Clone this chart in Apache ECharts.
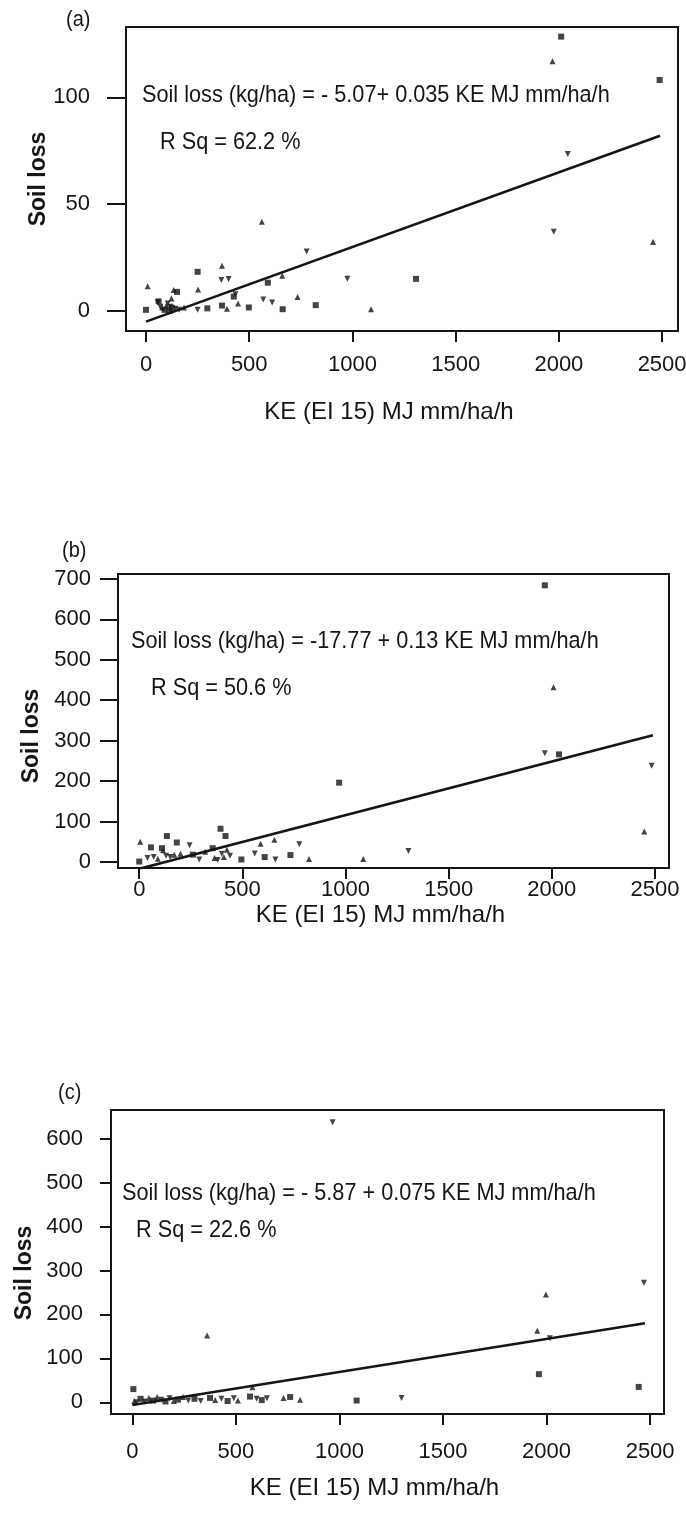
<!DOCTYPE html>
<html lang="en">
<head>
    <meta charset="UTF-8">
    <title>Soil loss vs KE</title>
    <style>
        * {
            margin: 0;
            padding: 0;
        }

        html, body {
            height: 100%;
            width: 100%;
            background: #fff;
        }
    </style>
    <script src="https://cdn.jsdelivr.net/npm/echarts@6/dist/echarts.min.js"></script>
</head>
<body>

<div id="main" style="width: 686px;height: 1513px;"></div>

<script>
    // tick labels
    var xTicks = [0, 500, 1000, 1500, 2000, 2500];
    var yTicksA = [0, 50, 100];
    var yTicksB = [0, 100, 200, 300, 400, 500, 600, 700];
    var yTicksC = [0, 100, 200, 300, 400, 500, 600];

    // (a) soil loss vs KE
    var pointsA = [
        [0, 0.5], [8, 11.5], [57, 4], [61, 4.5], [69, 2], [78, 1.6], [90, 0.5], [99, 2.7],
        [105, 3.5], [114, 0], [118, 2], [123, 5.8], [125, 1.5], [134, 9.8], [142, 1], [150, 8.9],
        [160, 0.5], [184, 1.6], [250, 18.3], [252, 10], [250, 0.6], [297, 1.2], [365, 14.5],
        [368, 21.1], [368, 2.5], [392, 1], [400, 14.9], [425, 6.7], [433, 7.8], [446, 3.5],
        [498, 1.6], [561, 41.7], [568, 5.3], [590, 13.2], [611, 3.9], [660, 16.5], [662, 0.8],
        [734, 6.5], [778, 27.8], [822, 2.7], [975, 15], [1090, 0.8], [1308, 15], [1969, 116.9],
        [1975, 37], [2011, 128.4], [2043, 73.4], [2456, 32.3], [2488, 108.1]
    ];
    var fitA = [[0, -5], [2490, 82]];

    // (b)
    var pointsB = [
        [0, 1], [5, 50], [40, 10], [57, 36], [70, 12], [90, 8], [110, 34], [115, 29], [130, 15],
        [134, 64], [150, 12], [170, 18], [182, 48], [200, 20], [244, 41], [260, 18], [291, 6],
        [320, 25], [356, 34], [365, 10], [380, 5], [394, 82], [400, 20], [410, 12], [418, 64],
        [425, 30], [440, 15], [495, 6], [560, 21], [588, 45], [608, 12], [655, 55], [660, 6],
        [733, 17], [776, 44], [823, 7], [969, 196], [1086, 7], [1305, 27], [1966, 684],
        [1966, 269], [2008, 432], [2035, 266], [2448, 75], [2484, 238]
    ];
    var fitB = [[0, -17], [2490, 313]];

    // (c)
    var pointsC = [
        [5, 30], [10, 3], [20, 0], [40, 8], [60, 2], [80, 10], [100, 4], [120, 12], [140, 6],
        [160, 2], [180, 9], [200, 3], [220, 6], [245, 12], [270, 4], [300, 8], [330, 3],
        [361, 152], [375, 10], [400, 5], [430, 8], [460, 3], [490, 9], [510, 4], [568, 13],
        [580, 34], [600, 8], [625, 5], [650, 9], [730, 10], [762, 12], [810, 6], [967, 637],
        [1083, 4], [1300, 10], [1955, 163], [1963, 64], [1997, 245], [2016, 146], [2445, 35],
        [2470, 272]
    ];
    var fitC = [[0, -6], [2475, 180]];

    var FONT = '"Liberation Sans", Arial, sans-serif';
    var INK = '#151515';

    var myChart = echarts.init(document.getElementById('main'));

    function plain(v) {
        return String(v);
    }

    function xAxisFor(gridIndex, min, max, labelMargin, nameGap) {
        return {
            type: 'value',
            gridIndex: gridIndex,
            min: min,
            max: max,
            name: 'KE (EI 15) MJ mm/ha/h',
            nameLocation: 'middle',
            nameGap: nameGap,
            nameMoveOverlap: false,
            nameTextStyle: {fontFamily: FONT, fontSize: 24, color: INK, padding: [0, 26, 0, 0]},
            axisLine: {show: false, onZero: false},
            axisTick: {show: true, customValues: xTicks, length: 11, lineStyle: {color: INK, width: 2}},
            axisLabel: {customValues: xTicks, formatter: plain, margin: labelMargin, fontFamily: FONT, fontSize: 22, color: INK},
            splitLine: {show: false}
        };
    }

    function yAxisFor(gridIndex, min, max, ticks, tickLen, labelMargin, nameGap, shift) {
        return {
            type: 'value',
            gridIndex: gridIndex,
            min: min,
            max: max,
            name: 'Soil loss',
            nameLocation: 'middle',
            nameGap: nameGap,
            nameMoveOverlap: false,
            nameTextStyle: {fontFamily: FONT, fontSize: 23, fontWeight: 'bold', color: INK, padding: [0, shift, 0, 0]},
            axisLine: {show: false, onZero: false},
            axisTick: {show: true, customValues: ticks, length: tickLen, lineStyle: {color: INK, width: 2}},
            axisLabel: {customValues: ticks, formatter: plain, margin: labelMargin, fontFamily: FONT, fontSize: 22, color: INK},
            splitLine: {show: false}
        };
    }

    function pointSeries(i, data) {
        return {
            type: 'scatter',
            xAxisIndex: i,
            yAxisIndex: i,
            data: data,
            symbol: function (v, p) {
                return p.dataIndex % 3 === 0 ? 'rect' : 'triangle';
            },
            symbolRotate: function (v, p) {
                return p.dataIndex % 2 === 0 ? 180 : 0;
            },
            symbolSize: 6,
            itemStyle: {color: INK},
            silent: true
        };
    }

    function fitSeries(i, data) {
        return {
            type: 'line',
            xAxisIndex: i,
            yAxisIndex: i,
            data: data,
            symbol: 'none',
            lineStyle: {color: INK, width: 2.6},
            silent: true
        };
    }

    // text drawn a bit taller than wide, like the scanned figure
    function label(text, x, y, size) {
        return {
            type: 'text',
            x: x,
            y: y,
            scaleY: 1.1,
            style: {
                text: text,
                font: size + 'px ' + FONT,
                fill: INK,
                textAlign: 'left',
                textVerticalAlign: 'middle',
                align: 'left',
                verticalAlign: 'middle'
            }
        };
    }

    var option = {
        animation: false,
        backgroundColor: '#fff',
        grid: [
            {left: 126, top: 27, width: 552, height: 304, show: true, borderColor: INK, borderWidth: 2, outerBoundsMode: 'none', containLabel: false},
            {left: 118, top: 574, width: 551, height: 294, show: true, borderColor: INK, borderWidth: 2, outerBoundsMode: 'none', containLabel: false},
            {left: 111, top: 1110, width: 553, height: 304, show: true, borderColor: INK, borderWidth: 2, outerBoundsMode: 'none', containLabel: false}
        ],
        xAxis: [
            xAxisFor(0, -97, 2577, 23, 69),
            xAxisFor(1, -103, 2568, 11, 35),
            xAxisFor(2, -103, 2567, 27, 62)
        ],
        yAxis: [
            yAxisFor(0, -9.4, 132.9, yTicksA, 19, 36, 76, 0),
            yAxisFor(1, -15, 712, yTicksB, 18, 27, 75, 30),
            yAxisFor(2, -26.6, 665, yTicksC, 11, 28, 75, 22)
        ],
        graphic: [
            label('(a)', 66, 20, 20),
            label('Soil loss (kg/ha) = - 5.07+ 0.035 KE MJ mm/ha/h', 142, 95, 21.7),
            label('R Sq = 62.2 %', 160, 142, 21.7),
            label('(b)', 62, 551, 20),
            label('Soil loss (kg/ha) = -17.77 + 0.13 KE MJ mm/ha/h', 131, 641, 21.7),
            label('R Sq = 50.6 %', 151, 688, 21.7),
            label('(c)', 58, 1093, 20),
            label('Soil loss (kg/ha) = - 5.87 + 0.075 KE MJ mm/ha/h', 122, 1193, 21.7),
            label('R Sq = 22.6 %', 136, 1230, 21.7)
        ],
        series: [
            pointSeries(0, pointsA), fitSeries(0, fitA),
            pointSeries(1, pointsB), fitSeries(1, fitB),
            pointSeries(2, pointsC), fitSeries(2, fitC)
        ]
    };
    myChart.setOption(option);
</script>

</body>
</html>
